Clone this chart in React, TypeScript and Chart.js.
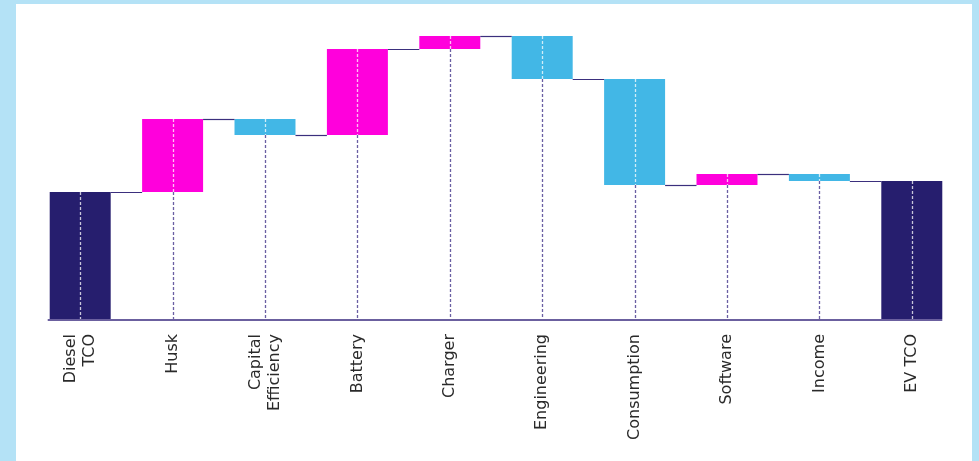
import React, { useEffect, useRef } from "react";
import { Chart, registerables } from "chart.js";

Chart.register(...registerables);

const categories: (string | string[])[] = [
  ["Diesel", "TCO"],
  "Husk",
  ["Capital", "Efficiency"],
  "Battery",
  "Charger",
  "Engineering",
  "Consumption",
  "Software",
  "Income",
  "EV TCO",
];
// step values: first and last are totals, the rest are changes
const dieselTotal = 127;
const changes = [73, -16, 86, 13, -43, -106, 11, -7];
const evTotal = 138;

const NAVY = "#261e6e";
const MAGENTA = "#ff00dc";
const BLUE = "#42b7e6";
const PAGE_BG = "#b4e2f6";
const LABEL_SIZE = 16;

function buildRanges() {
  const ranges: [number, number][] = [[0, dieselTotal]];
  let level = dieselTotal;
  for (const c of changes) {
    ranges.push([level, level + c]);
    level += c;
  }
  ranges.push([0, evTotal]);
  return ranges;
}

const waterfallPlugin = {
  id: "waterfallDeco",
  beforeDraw(chart: any) {
    // center multi-line rotated tick labels on their tick
    const scale = chart.scales.x;
    const items = scale.getLabelItems();
    items.forEach((it: any) => {
      if (Array.isArray(it.label) && !it._centered) {
        const lh = it.font ? it.font.lineHeight : LABEL_SIZE * 1.2;
        it.options.translation[0] -= ((it.label.length - 1) * lh) / 2;
        it._centered = true;
      }
    });
  },
  afterDatasetsDraw(chart: any) {
    const ctx = chart.ctx;
    const meta = chart.getDatasetMeta(0);
    const y = chart.scales.y;
    const ranges = buildRanges();
    const base = y.getPixelForValue(0);
    ctx.save();
    // connectors
    ctx.strokeStyle = "#3b2f7d";
    ctx.lineWidth = 1.2;
    for (let i = 0; i < meta.data.length - 1; i++) {
      const a = meta.data[i];
      const b = meta.data[i + 1];
      const lvl = y.getPixelForValue(ranges[i][1]);
      const ax = a.x + a.width / 2;
      const bx = b.x - b.width / 2;
      ctx.beginPath();
      ctx.moveTo(ax, Math.round(lvl) + 0.5);
      ctx.lineTo(bx, Math.round(lvl) + 0.5);
      ctx.stroke();
    }
    // dashed verticals
    meta.data.forEach((bar: any, i: number) => {
      const top = y.getPixelForValue(Math.max(ranges[i][0], ranges[i][1]));
      const bottom = y.getPixelForValue(Math.min(ranges[i][0], ranges[i][1]));
      const x = Math.round(bar.x) + 0.5;
      ctx.lineWidth = 1.3;
      ctx.setLineDash([3, 2]);
      ctx.strokeStyle = "rgba(255,255,255,0.75)";
      ctx.beginPath();
      ctx.moveTo(x, top);
      ctx.lineTo(x, bottom);
      ctx.stroke();
      if (bottom < base - 1) {
        ctx.strokeStyle = "#6a5fa3";
        ctx.beginPath();
        ctx.moveTo(x, bottom);
        ctx.lineTo(x, base);
        ctx.stroke();
      }
    });
    ctx.setLineDash([]);
    // axis line
    const first = meta.data[0];
    const last = meta.data[meta.data.length - 1];
    ctx.strokeStyle = "#6b609f";
    ctx.lineWidth = 2;
    ctx.beginPath();
    ctx.moveTo(first.x - first.width / 2 - 2, base + 1);
    ctx.lineTo(last.x + last.width / 2, base + 1);
    ctx.stroke();
    ctx.restore();
  },
};

export default function App() {
  const ref = useRef<HTMLCanvasElement>(null);
  useEffect(() => {
    document.body.style.margin = "0";
    const ranges = buildRanges();
    const colors = ranges.map((r, i) =>
      i === 0 || i === ranges.length - 1 ? NAVY : r[1] >= r[0] ? MAGENTA : BLUE
    );
    const chart = new Chart(ref.current!, {
      type: "bar",
      data: {
        labels: categories,
        datasets: [
          {
            data: ranges as any,
            backgroundColor: colors,
            borderWidth: 0,
            barPercentage: 0.66,
            categoryPercentage: 1,
            borderSkipped: false,
          },
        ],
      },
      options: {
        animation: false,
        responsive: false,
        maintainAspectRatio: false,
        layout: { padding: { left: 34, right: 21, top: 19, bottom: 0 } },
        plugins: { legend: { display: false }, tooltip: { enabled: false } },
        scales: {
          x: {
            grid: { display: false },
            border: { display: false },
            ticks: {
              minRotation: 90,
              maxRotation: 90,
              autoSkip: false,
              padding: 7,
              color: "#2a2a2a",
              font: { family: "DejaVu Sans", size: LABEL_SIZE, weight: "normal" as any, lineHeight: 1.2 },
            },
            afterFit(scale: any) {
              scale.height = 142;
              scale.paddingLeft = 0;
              scale.paddingRight = 0;
            },
          },
          y: {
            display: false,
            min: 0,
            max: 300,
          },
        },
      },
      plugins: [waterfallPlugin],
    });
    return () => chart.destroy();
  }, []);
  return (
    <div
      style={{
        position: "fixed",
        left: 0,
        top: 0,
        width: 979,
        height: 461,
        background: PAGE_BG,
        overflow: "hidden",
      }}
    >
      <div
        style={{
          position: "absolute",
          left: 16,
          top: 4,
          width: 956,
          height: 470,
          background: "#ffffff",
        }}
      />
      <canvas
        ref={ref}
        width={979}
        height={461}
        style={{ position: "absolute", left: 0, top: 0, width: 979, height: 461 }}
      />
    </div>
  );
}
